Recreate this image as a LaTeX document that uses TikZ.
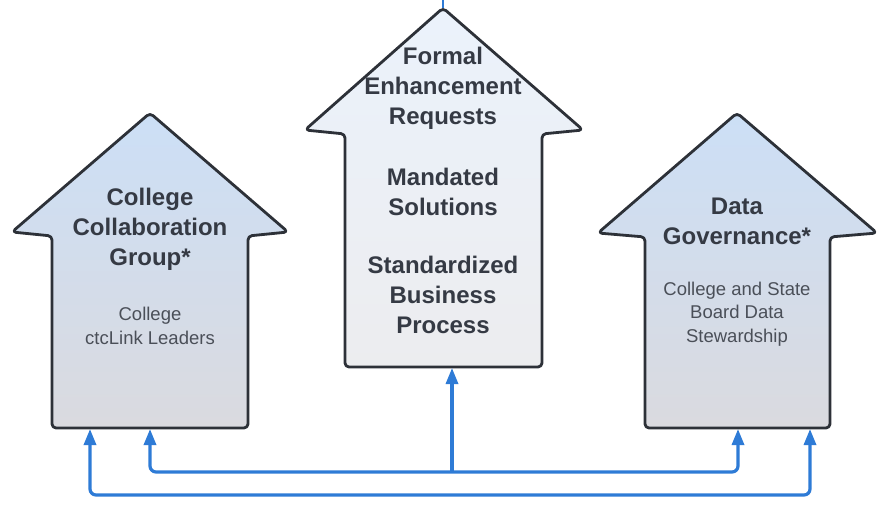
\documentclass[tikz,border=0pt]{standalone}
\usepackage{fontspec}
\setmainfont{Liberation Sans}
\usetikzlibrary{arrows.meta}
\definecolor{edge}{HTML}{2D3138}
\definecolor{txt}{HTML}{353A44}
\definecolor{subtxt}{HTML}{4A4F58}
\definecolor{link}{HTML}{2E7BD6}
\definecolor{topblue}{HTML}{CCDFF6}
\definecolor{botgrey}{HTML}{DADADF}
\tikzset{
  bigarrow/.style={draw=edge, line width=2.8pt, rounded corners=4pt, line join=round},
  headtxt/.style={text=txt, align=center, font=\fontsize{24}{30}\selectfont\bfseries},
  subnote/.style={text=subtxt, align=center, font=\fontsize{18.5}{23.5}\selectfont},
  linkline/.style={draw=link, line width=3.2pt, rounded corners=6pt},
  uptip/.style={-{Triangle[length=16pt,width=12pt]}},
  bothtips/.style={{Triangle[length=16pt,width=12pt]}-{Triangle[length=16pt,width=12pt]}}
}
\begin{document}
\begin{tikzpicture}[x=1pt,y=1pt]
\useasboundingbox (0,0) rectangle (884,-505);
% left arrow
\shadedraw[bigarrow, top color=topblue, bottom color=botgrey]
  (150,-113) -- (288,-232) -- (248,-236) -- (248,-428) -- (52,-428) -- (52,-236) -- (12,-232) -- cycle;
% center arrow
\shadedraw[bigarrow, top color=white!60!topblue, middle color=topblue, bottom color=white!50!botgrey]
  (443,-8) -- (583,-130) -- (542,-134) -- (542,-367) -- (345,-367) -- (345,-134) -- (305,-130) -- cycle;
% right arrow
\shadedraw[bigarrow, top color=topblue, bottom color=botgrey]
  (737,-113) -- (877,-233) -- (830,-237) -- (830,-428) -- (645,-428) -- (645,-237) -- (598,-233) -- cycle;

% texts
\node[headtxt] (ccg) at (150,-229) {College\\Collaboration\\Group*};
\node[subnote] (ccl) at (150,-326) {College\\ctcLink Leaders};
\node[headtxt] (fer) at (443,-88) {Formal\\Enhancement\\Requests};
\node[headtxt] (mand) at (443,-192) {Mandated\\Solutions};
\node[headtxt] (sbp) at (443,-295) {Standardized\\Business\\Process};
\node[headtxt] (dg) at (737,-221) {Data\\Governance*};
\node[subnote] (dgs) at (737,-314) {College and State\\Board Data\\Stewardship};

% connector anchors
\coordinate (lA) at (90,-429);
\coordinate (lB) at (150,-429);
\coordinate (rA) at (738,-429);
\coordinate (rB) at (810,-429);
\coordinate (cB) at (452,-368);
\coordinate (cJ) at (452,-472);
\coordinate (ctip) at (443,-8);
\coordinate (ctop) at (443,0);

\draw[linkline, bothtips] (lA) |- (450,-495) -| (rB);
\draw[linkline, bothtips] (lB) |- (cJ) -| (rA);
\draw[linkline, uptip] (cJ) -- (cB);
\draw[draw=link, line width=2.4pt] (ctop) -- (ctip);
\end{tikzpicture}
\end{document}
